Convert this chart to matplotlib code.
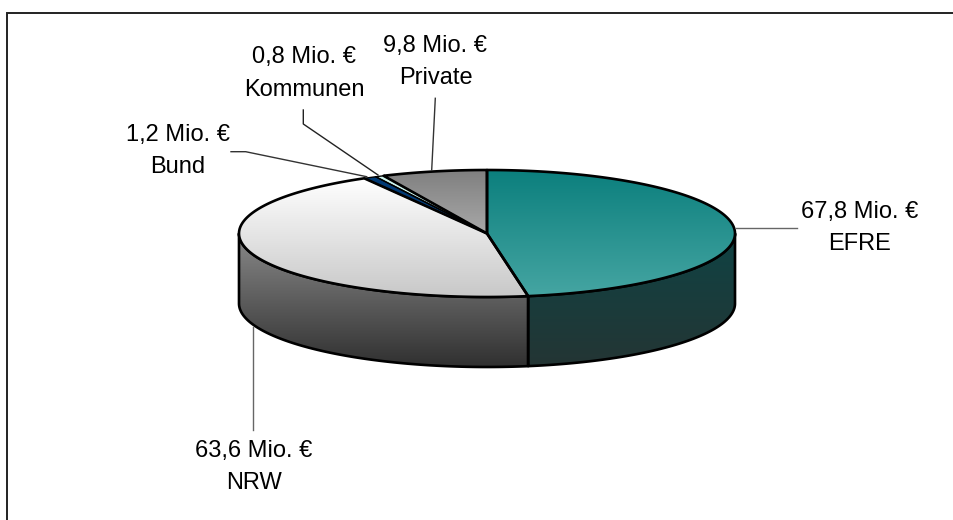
import numpy as np
import matplotlib
matplotlib.use("Agg")
import matplotlib.pyplot as plt
from matplotlib.patches import Polygon
from matplotlib.colors import LinearSegmentedColormap

categories = ["EFRE", "NRW", "Bund", "Kommunen", "Private"]
values = [67.8, 63.6, 1.2, 0.8, 9.8]
value_labels = ["67,8 Mio. €", "63,6 Mio. €", "1,2 Mio. €", "0,8 Mio. €", "9,8 Mio. €"]
top_colors = [("#0b7f7d", "#45a5a2"), ("#ffffff", "#c8c8c8"), ("#003a75", "#003a75"),
              ("#cdf5ee", "#cdf5ee"), ("#7f7f7f", "#a8a8a8")]
side_colors = [("#0f4344", "#243534"), ("#8a8a8a", "#303030")]

W, H = 954, 520
CX, CY, RX, RY, DEPTH = 487.0, 233.5, 248.0, 63.5, 70.0

plt.rcParams["font.family"] = ["Liberation Sans", "DejaVu Sans"]
fig = plt.figure(figsize=(W / 100, H / 100), dpi=100)
ax = fig.add_axes([0, 0, 1, 1])
ax.axis("off")


def ell(t):
    return CX + RX * np.sin(t), CY - RY * np.cos(t)


def grad(verts, c0, c1, y0, y1, z=2):
    cmap = LinearSegmentedColormap.from_list("g", [c0, c1])
    im = ax.imshow(np.linspace(0, 1, 256)[:, None], cmap=cmap, aspect="auto",
                   extent=(100, 850, y1, y0), zorder=z, interpolation="bilinear")
    poly = Polygon(verts, closed=True, transform=ax.transData, fc="none", ec="none")
    ax.add_patch(poly)
    im.set_clip_path(poly)
    ax.add_patch(Polygon(verts, closed=True, fc="none", ec="black", lw=1.9, zorder=z + 0.5,
                         joinstyle="round"))


angles = np.cumsum([0] + values) / sum(values) * 2 * np.pi

# side walls: only the front half of EFRE and NRW is visible
for i in range(2):
    lo = max(angles[i], np.pi / 2)
    hi = min(angles[i + 1], 3 * np.pi / 2)
    t = np.linspace(lo, hi, 200)
    x, y = ell(t)
    verts = np.r_[np.c_[x, y], np.c_[x[::-1], y[::-1] + DEPTH]]
    grad(verts, side_colors[i][0], side_colors[i][1], CY, CY + RY + DEPTH)

# top slices, each with a gradient over its own height
for i in range(len(values)):
    t = np.linspace(angles[i], angles[i + 1], 300)
    x, y = ell(t)
    verts = np.r_[[[CX, CY]], np.c_[x, y]]
    grad(verts, top_colors[i][0], top_colors[i][1], verts[:, 1].min(), verts[:, 1].max(), z=3)
    if i in (2, 3):
        ax.patches[-1].set_linewidth(1.0)

ax.set_xlim(0, W)
ax.set_ylim(H, 0)

# frame: only the top and left edges reach the picture
ax.plot([7.5, 7.5, 954], [520, 12.5, 12.5], color="#222222", lw=1.4, zorder=1,
        solid_joinstyle="miter")

# leader lines
leaders = [([736, 797], [227.7, 227.7], "#666666"),
           ([253.3, 253.3], [327, 430], "#666666"),
           ([231, 245.7, 366.7], [151.7, 151.7, 176.7], "#333333"),
           ([303.3, 303.3, 378], [110, 124, 175], "#222222"),
           ([435.3, 431.7], [98.3, 170], "#333333")]
for lx, ly, c in leaders:
    ax.plot(lx, ly, color=c, lw=1.0, zorder=6)

label_pos = [(860, 228), (254, 467), (178, 151), (304, 73.5), (435.5, 62)]
for cat, lab, (px, py) in zip(categories, value_labels, label_pos):
    ax.text(px, py, f"{lab}\n{cat}", ha="center", va="center", fontsize=17,
            linespacing=1.6, color="black", zorder=7)

fig.savefig("out.png", dpi=100, facecolor="white")
